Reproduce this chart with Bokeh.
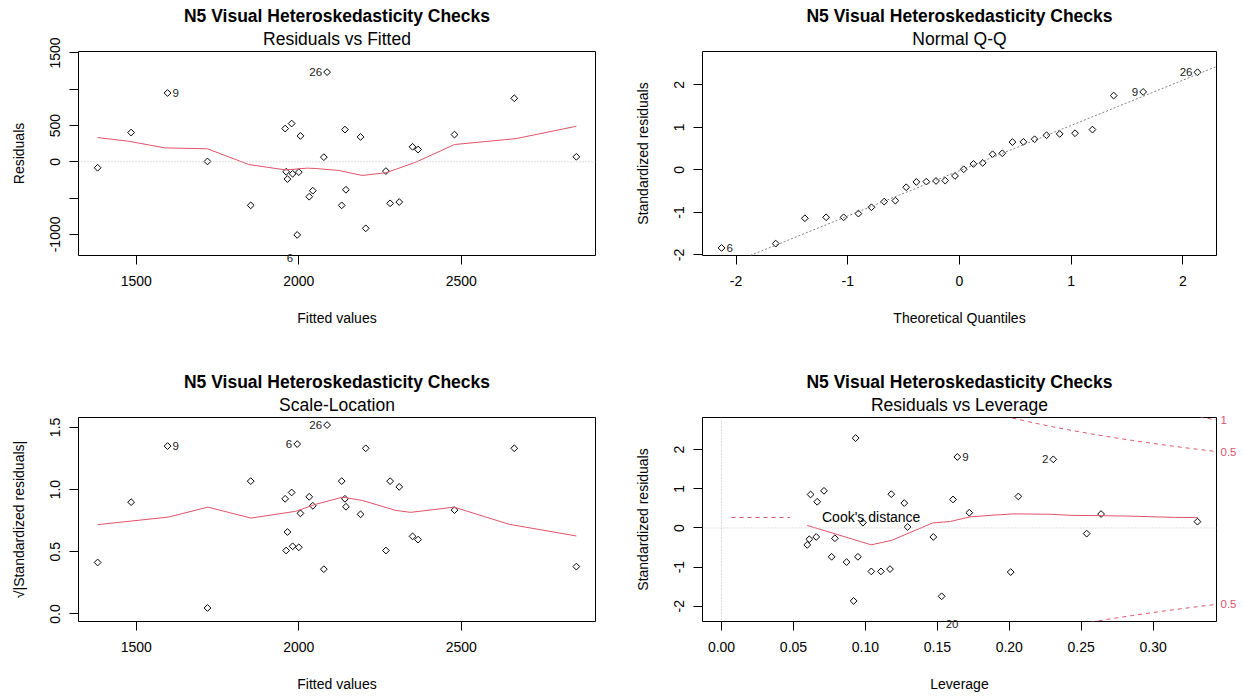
import numpy as np
from bokeh.plotting import figure
from bokeh.models import (Range1d, FixedTicker, Title, Span, Slope, Label, Legend,
                          LegendItem, PrintfTickFormatter, LinearAxis)
from bokeh.core.properties import value
from bokeh.layouts import gridplot
from bokeh.embed import file_html
from bokeh.resources import INLINE

# ---------------- data ----------------
main_title = "N5 Visual Heteroskedasticity Checks"
captions = ["Residuals vs Fitted", "Normal Q-Q", "Scale-Location", "Residuals vs Leverage"]

fitted = [1381, 1484, 1596, 1719, 1852, 1958, 1961, 1965, 1978, 1981, 1995, 2000, 2005, 2032, 2043,
          2077, 2087, 2132, 2142, 2145, 2190, 2206, 2268, 2281, 2309, 2350, 2367, 2479, 2663, 2854]
residuals = [-82, 403, 948, 5, -600, 458, -137, -238, 527, -165, -1007, -142, 357, -481, -398,
             64, 1236, -600, 444, -385, 343, -916, -128, -572, -554, 206, 169, 375, 875, 69]
sqrt_abs_std_resid = [0.414, 0.899, 1.350, 0.048, 1.068, 0.926, 0.510, 0.659, 0.977, 0.544, 1.366, 0.536,
                      0.809, 0.942, 0.870, 0.360, 1.519, 1.068, 0.926, 0.862, 0.801, 1.332, 0.510, 1.068,
                      1.022, 0.624, 0.598, 0.835, 1.332, 0.381]
fit_id_index = [16, 2, 10]
fit_id_text = ["26", "9", "6"]

resid_smooth_x = [1381, 1475, 1588, 1719, 1846, 1959, 2026, 2051, 2123, 2195, 2268, 2360, 2479, 2669, 2854]
resid_smooth_y = [334, 284, 192, 179, -37, -112, -87, -92, -119, -188, -151, -5, 238, 320, 490]

scale_smooth_x = [1381, 1599, 1720, 1853, 1990, 2051, 2134, 2195, 2298, 2344, 2478, 2647, 2854]
scale_smooth_y = [0.718, 0.779, 0.859, 0.771, 0.825, 0.881, 0.939, 0.913, 0.833, 0.817, 0.859, 0.721, 0.627]

qq_theoretical = [-2.13, -1.645, -1.384, -1.194, -1.037, -0.905, -0.788, -0.674, -0.574, -0.477, -0.386,
                  -0.297, -0.21, -0.128, -0.04, 0.038, 0.125, 0.208, 0.296, 0.383, 0.474, 0.572, 0.672,
                  0.779, 0.897, 1.034, 1.19, 1.38, 1.644, 2.13]
qq_sample = [-1.835, -1.733, -1.137, -1.114, -1.114, -1.027, -0.878, -0.745, -0.722, -0.408, -0.282,
             -0.275, -0.259, -0.251, -0.141, 0.016, 0.141, 0.165, 0.369, 0.392, 0.655, 0.66, 0.722,
             0.816, 0.847, 0.863, 0.949, 1.749, 1.835, 2.298]
qq_line_intercept = -0.018
qq_line_slope = 1.065
qq_id_index = [0, 28, 29]
qq_id_text = ["6", "9", "26"]

leverage = [0.0596, 0.0610, 0.0619, 0.0658, 0.0665, 0.0712, 0.0765, 0.0788, 0.0869, 0.0918, 0.0932,
            0.0948, 0.0983, 0.1041, 0.1108, 0.1171, 0.1180, 0.1270, 0.1293, 0.1472, 0.1530, 0.1609,
            0.1639, 0.1722, 0.2010, 0.2063, 0.2306, 0.2538, 0.2638, 0.3308]
std_resid_lev = [-0.432, -0.288, 0.856, -0.229, 0.669, 0.949, -0.737, -0.263, -0.873, -1.864, 2.297,
                 -0.737, 0.136, -1.110, -1.110, -1.051, 0.864, 0.636, 0.025, -0.229, -1.746, 0.729,
                 1.814, 0.390, -1.127, 0.805, 1.754, -0.144, 0.356, 0.161]
lev_id_index = [22, 26, 20]
lev_id_text = ["9", "2", "20"]
lev_smooth_x = [0.0596, 0.104, 0.118, 0.1467, 0.159, 0.1725, 0.19, 0.203, 0.229, 0.243, 0.264, 0.281, 0.315, 0.331]
lev_smooth_y = [0.064, -0.43, -0.32, 0.127, 0.165, 0.283, 0.33, 0.36, 0.35, 0.322, 0.314, 0.305, 0.271, 0.265]
n_params = 4
cook_levels = [0.5, 1.0]
cook_level_text = ["0.5", "1"]

fit_ticks = [1500, 2000, 2500]
resid_ticks = [-1000, -500, 0, 500, 1000, 1500]
qq_ticks = [-2, -1, 0, 1, 2]
scale_ticks = [0.0, 0.5, 1.0, 1.5]
lev_ticks = [0.0, 0.05, 0.10, 0.15, 0.20, 0.25, 0.30]

# ---------------- style ----------------
FONT = "Liberation Sans"
RED = "#DF536B"
IDCOL = "#222222"


def pad(lo, hi, f=0.04):
    d = (hi - lo) * f
    return lo - d, hi + d


def make_fig(width, xr, yr, borders, caption, xlabel, ylabel, xticks, yticks, xfmt, yfmt):
    l, r, t, b = borders
    p = figure(width=width, height=349, x_range=Range1d(*xr), y_range=Range1d(*yr),
               output_backend="svg", toolbar_location=None, title=None,
               min_border_left=l, min_border_right=r, min_border_top=t, min_border_bottom=b,
               background_fill_color="white", border_fill_color="white")
    p.add_layout(Title(text=caption, align="center", text_font=FONT, text_font_size="17.5px",
                       text_font_style="normal", text_color="black", standoff=5), "above")
    p.add_layout(Title(text=main_title, align="center", text_font=FONT, text_font_size="17.5px",
                       text_font_style="bold", text_color="black", standoff=-2), "above")
    p.xgrid.visible = False
    p.ygrid.visible = False
    p.outline_line_color = "black"
    p.outline_line_width = 1
    p.outline_line_alpha = 1
    for ax in (p.xaxis[0], p.yaxis[0]):
        ax.axis_line_color = None
        ax.major_tick_out = 9
        ax.major_tick_in = 0
        ax.minor_tick_line_color = None
        ax.major_tick_line_color = "black"
        ax.major_label_text_font = FONT
        ax.major_label_text_font_size = "14px"
        ax.major_label_text_color = "black"
        ax.axis_label_text_font = FONT
        ax.axis_label_text_font_size = "14px"
        ax.axis_label_text_font_style = "normal"
        ax.axis_label_text_color = "black"
    p.xaxis[0].ticker = FixedTicker(ticks=xticks)
    p.yaxis[0].ticker = FixedTicker(ticks=yticks)
    p.xaxis[0].formatter = PrintfTickFormatter(format=xfmt)
    p.yaxis[0].formatter = PrintfTickFormatter(format=yfmt)
    p.xaxis[0].axis_label = xlabel
    p.yaxis[0].axis_label = ylabel
    p.yaxis[0].major_label_orientation = "vertical"
    p.xaxis[0].major_label_standoff = 11
    p.xaxis[0].axis_label_standoff = 21
    p.yaxis[0].major_label_standoff = 9
    p.yaxis[0].axis_label_standoff = 21
    return p


def pts(p, xs, ys):
    p.scatter(xs, ys, marker="square", angle=np.pi / 4, size=4.8, line_color="black",
              fill_color=None, line_width=1)


def id_text(p, x, y, t, side):
    if side == "right":
        p.text(x=[x], y=[y], text=[t], text_align="left", text_baseline="middle", x_offset=5,
               text_font=value(FONT), text_font_size="11.5px", text_color=IDCOL)
    else:
        p.text(x=[x], y=[y], text=[t], text_align="right", text_baseline="middle", x_offset=-5,
               text_font=value(FONT), text_font_size="11.5px", text_color=IDCOL)


def edge_id(p, x, y, t, align, xoff, side):
    # label drawn on the lower box edge (kept out of the clipped frame)
    p.add_layout(Label(x=x, y=y, text=t, text_align=align, text_baseline="middle",
                       x_offset=xoff, y_offset=-2, text_font=FONT,
                       text_font_size="11.5px", text_color=IDCOL), side)


# ---------------- panel 1: Residuals vs Fitted ----------------
xr_fit = pad(min(fitted), max(fitted))
yr1 = pad(*pad(min(residuals), max(residuals), 0.08))
p1 = make_fig(621, xr_fit, yr1, (78, 26, 51, 94), captions[0], "Fitted values", "Residuals",
              fit_ticks, resid_ticks, "%d", "%d")
p1.yaxis[0].major_label_overrides = {-500: "", 1000: ""}
p1.add_layout(Span(location=0, dimension="width", line_color="#BEBEBE", line_dash="1 2", line_width=1))
pts(p1, fitted, residuals)
p1.line(resid_smooth_x, resid_smooth_y, line_color=RED, line_width=1)
id_text(p1, fitted[fit_id_index[0]], residuals[fit_id_index[0]], fit_id_text[0], "left")
id_text(p1, fitted[fit_id_index[1]], residuals[fit_id_index[1]], fit_id_text[1], "right")
edge_id(p1, fitted[fit_id_index[2]], yr1[0], fit_id_text[2], "right", -4, "below")

# ---------------- panel 2: Normal Q-Q ----------------
q_lo, q_hi = min(qq_sample), max(qq_sample)
yr2 = pad(q_lo, q_hi + 0.075 * (q_hi - q_lo))
xr2 = pad(min(qq_theoretical), max(qq_theoretical))
p2 = make_fig(622, xr2, yr2, (81, 27, 51, 94), captions[1], "Theoretical Quantiles",
              "Standardized residuals", qq_ticks, qq_ticks, "%d", "%d")
p2.add_layout(Slope(gradient=qq_line_slope, y_intercept=qq_line_intercept, line_color="#808080",
                    line_dash="2 2", line_width=1))
pts(p2, qq_theoretical, qq_sample)
id_text(p2, qq_theoretical[qq_id_index[0]], qq_sample[qq_id_index[0]], qq_id_text[0], "right")
id_text(p2, qq_theoretical[qq_id_index[1]], qq_sample[qq_id_index[1]], qq_id_text[1], "left")
id_text(p2, qq_theoretical[qq_id_index[2]], qq_sample[qq_id_index[2]], qq_id_text[2], "left")

# ---------------- panel 3: Scale-Location ----------------
yr3 = pad(0, max(sqrt_abs_std_resid))
p3 = make_fig(621, xr_fit, yr3, (78, 26, 68, 76), captions[2], "Fitted values",
              "\u221a|Standardized residuals|", fit_ticks, scale_ticks, "%d", "%.1f")
pts(p3, fitted, sqrt_abs_std_resid)
p3.line(scale_smooth_x, scale_smooth_y, line_color=RED, line_width=1)
id_text(p3, fitted[fit_id_index[0]], sqrt_abs_std_resid[fit_id_index[0]], fit_id_text[0], "left")
id_text(p3, fitted[fit_id_index[1]], sqrt_abs_std_resid[fit_id_index[1]], fit_id_text[1], "right")
id_text(p3, fitted[fit_id_index[2]], sqrt_abs_std_resid[fit_id_index[2]], fit_id_text[2], "left")

# ---------------- panel 4: Residuals vs Leverage ----------------
xr4 = pad(0, max(leverage))
yr4 = pad(*pad(min(std_resid_lev), max(std_resid_lev), 0.08))
p4 = make_fig(622, xr4, yr4, (81, 26, 68, 77), captions[3], "Leverage",
              "Standardized residuals", lev_ticks, qq_ticks, "%.2f", "%d")
p4.add_layout(Span(location=0, dimension="width", line_color="#BEBEBE", line_dash="1 2", line_width=1))
p4.add_layout(Span(location=0, dimension="height", line_color="#BEBEBE", line_dash="1 2", line_width=1))
hh = np.linspace(min(leverage) / 100, xr4[1], 101)
cook_renderers = []
for lvl in cook_levels:
    cl = np.sqrt(lvl * n_params * (1 - hh) / hh)
    cook_renderers.append(p4.line(hh, cl, line_color=RED, line_dash="4 4", line_width=1))
    p4.line(hh, -cl, line_color=RED, line_dash="4 4", line_width=1)
pts(p4, leverage, std_resid_lev)
p4.line(lev_smooth_x, lev_smooth_y, line_color=RED, line_width=1)
id_text(p4, leverage[lev_id_index[0]], std_resid_lev[lev_id_index[0]], lev_id_text[0], "right")
id_text(p4, leverage[lev_id_index[1]], std_resid_lev[lev_id_index[1]], lev_id_text[1], "left")
edge_id(p4, leverage[lev_id_index[2]], yr4[0], lev_id_text[2], "left", 4, "above")

# Cook's distance level labels on the right side
xmax = min(0.99, xr4[1])
ymult = float(np.sqrt(n_params * (1 - xmax) / xmax))
cook_ticks = []
cook_over = {}
for lvl, txt in zip(cook_levels, cook_level_text):
    for sgn in (1, -1):
        yv = float(sgn * np.sqrt(lvl) * ymult)
        cook_ticks.append(yv)
        cook_over[yv] = txt
cook_axis = LinearAxis(ticker=FixedTicker(ticks=sorted(cook_ticks)), major_label_overrides=cook_over,
                       axis_line_color=None, major_tick_in=0, major_tick_out=0,
                       minor_tick_line_color=None, major_tick_line_color=None,
                       major_label_orientation="horizontal", major_label_standoff=4,
                       major_label_text_font=FONT, major_label_text_font_size="11.5px",
                       major_label_text_color=RED)
p4.add_layout(cook_axis, "right")

legend = Legend(items=[LegendItem(label="Cook's distance", renderers=[cook_renderers[0]])],
                location=(29, 94), glyph_width=59, glyph_height=20, label_standoff=32, padding=0,
                margin=0, spacing=0, border_line_alpha=0, background_fill_alpha=0,
                label_text_font=FONT, label_text_font_size="14px", label_text_color="black")
p4.add_layout(legend)

grid = gridplot([[p1, p2], [p3, p4]], toolbar_location=None)
open("out.html", "w").write(file_html(grid, INLINE))
